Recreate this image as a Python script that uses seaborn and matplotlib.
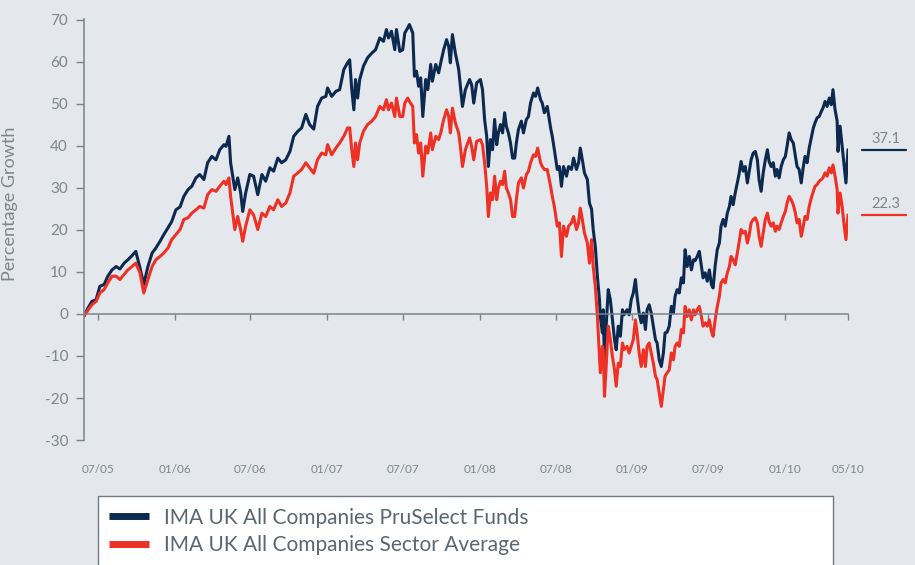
import matplotlib.pyplot as plt
import matplotlib.transforms as mtransforms
import seaborn as sns
import pandas as pd

# ---------------------------------------------------------------- data
start = pd.Timestamp("2005-05-29")

# days after start for each reading
days = [
    0, 10, 19, 29, 38, 48, 57, 67, 77, 86, 96, 105, 115, 124, 134, 143, 153, 163,
    172, 182, 191, 201, 210, 220, 230, 239, 249, 258, 268, 277, 287, 296, 306,
    316, 325, 335, 340, 347, 351, 356, 361, 368, 375, 380, 387, 397, 406, 416,
    426, 435, 445, 454, 464, 473, 483, 493, 502, 512, 521, 531, 540, 550, 559,
    569, 579, 583, 593, 603, 612,
    622, 631, 636, 641, 646, 650, 655, 660, 669, 679, 689, 698, 708, 717, 724,
    729, 736, 744, 748, 756, 763, 768, 775, 779, 787, 791, 796, 801, 806, 811,
    818, 823, 830, 834, 842, 849, 854, 861, 868, 873, 877, 882, 889, 897, 901, 906,
    913, 923, 928, 933, 940, 949, 954, 959, 964, 968, 973, 978, 983, 988, 992,
    997, 1002, 1007, 1011, 1016, 1021, 1026, 1031, 1035, 1040, 1047, 1052, 1059,
    1064, 1069, 1076, 1081, 1086, 1093, 1097, 1102, 1109, 1117, 1121, 1126, 1133,
    1138, 1143, 1148, 1155, 1160, 1167, 1172, 1179, 1184, 1188, 1193, 1198, 1205,
    1210, 1215,
    1219, 1224, 1229, 1234, 1236, 1241, 1243, 1246, 1250, 1255, 1260, 1265, 1270,
    1274, 1279, 1284, 1289, 1293, 1300, 1305, 1310, 1315, 1320, 1324, 1329, 1334,
    1339, 1344, 1348, 1353, 1358, 1363, 1368, 1372, 1377, 1382, 1387, 1391, 1396,
    1401, 1406, 1411, 1415, 1420, 1425, 1430, 1435, 1439, 1444, 1449, 1454, 1459,
    1463, 1468, 1473, 1478, 1482, 1487, 1492, 1497, 1502, 1506, 1511,
    1516, 1521, 1525, 1530, 1535, 1540, 1545, 1549, 1554, 1559, 1564, 1568, 1573,
    1578, 1583, 1588, 1592, 1597, 1602, 1607, 1612, 1616, 1621, 1626, 1631, 1636,
    1640, 1645, 1650, 1655, 1659, 1664, 1669, 1674, 1679, 1683, 1688, 1693, 1698,
    1703, 1707, 1712, 1717, 1722, 1726, 1731, 1736, 1741, 1746, 1750, 1755, 1760,
    1765, 1769, 1774, 1779, 1784, 1789, 1793, 1798, 1803, 1805, 1810, 1815, 1819,
    1824, 1829,
]

pruselect = [
    -0.5, 1.5, 3.0, 3.4, 6.6, 7.0, 9.0, 10.5, 11.3, 10.7, 12.1, 12.9, 13.9, 14.9,
    11.0, 7.0, 11.3, 14.5, 15.7, 17.3, 18.9, 20.5, 22.0, 24.8, 25.5, 28.0, 29.6,
    30.4, 32.4, 33.2, 32.0, 36.0, 37.5,
    36.7, 39.1, 40.3, 39.9, 42.3, 36.0, 32.8, 29.6, 32.4, 28.9, 24.4, 28.8, 33.2,
    32.8, 28.4, 33.2, 31.6, 34.8, 34.0, 37.1, 36.0, 36.7, 38.7, 42.3, 43.5, 44.3,
    47.5, 45.1, 44.0, 49.4, 51.4, 51.8, 53.8, 51.8, 53.0, 53.4,
    58.2, 59.8, 60.5, 53.4, 48.6, 55.8, 51.4, 55.8, 59.0, 61.0, 62.1, 62.9, 65.7,
    64.9, 67.7, 65.7, 67.3, 62.9, 67.7, 62.5, 62.9, 66.9, 68.1, 68.9, 66.9, 56.6,
    57.8, 54.2, 56.2, 47.0, 55.8, 53.4, 59.4, 55.4, 59.4, 57.4, 59.8, 62.9, 65.3,
    63.7, 59.8, 66.5, 62.1, 58.2, 54.2, 49.4,
    53.4, 55.8, 54.6, 50.2, 55.0, 55.8, 53.4, 46.3, 42.3, 35.1, 41.5, 39.1, 46.3,
    40.3, 43.1, 45.1, 43.1, 47.9, 44.7, 43.1, 40.7, 37.1, 37.1, 40.7, 43.9, 45.9,
    43.1, 46.3, 47.0, 50.2, 52.6, 51.8, 53.8, 51.0, 50.2, 47.9, 49.4, 44.3, 42.3,
    39.1, 34.4, 35.1, 30.4, 35.1, 32.8, 35.1, 34.4, 37.1, 34.4, 36.0, 39.5, 36.7,
    33.6, 32.0, 26.4, 25.0,
    20.1, 16.1, 9.0, 3.4, -0.6, -4.5, 1.0, -11.7, -2.9, 5.8, 3.4, -1.4, -6.1,
    -8.5, -2.9, -5.3, 1.0, -0.2, 1.0, -0.2, 3.4, 5.0, 8.2, 4.2, 0.2, -2.1, 0.2,
    -3.7, 1.0, 2.2, 0.2, -2.9, -6.1, -6.9, -10.9, -12.5, -9.3, -4.5, -4.3, -2.9,
    1.8, 0.2, 4.2, 5.8, 5.0, 8.6, 7.4, 15.3, 11.3, 13.7, 10.5, 12.9, 12.7, 13.7,
    14.9, 11.3, 8.6, 9.8, 7.8, 10.5, 7.0, 6.2, 11.5,
    15.3, 16.9, 20.9, 22.5, 20.9, 24.0, 25.6, 28.0, 26.0, 28.8, 31.2, 33.2, 36.3,
    34.0, 35.1, 31.2, 33.6, 36.7, 38.3, 38.7, 36.7, 32.0, 29.2, 33.6, 36.7, 39.1,
    36.3, 35.1, 36.0, 32.8, 34.4, 32.4, 35.1, 36.7, 37.5, 39.9, 43.1, 41.5, 40.7,
    37.5, 35.1, 34.4, 31.2, 35.1, 37.5, 36.0, 39.5, 41.9, 44.3, 45.5, 46.7, 47.0,
    48.2, 49.0, 50.6, 49.4, 51.4, 49.8, 53.4, 48.6, 45.9, 38.7, 44.7, 39.9, 36.0,
    31.2, 39.1,
]

sector = [
    -0.5, 1.0, 2.2, 3.0, 5.0, 5.8, 7.4, 9.0, 9.0, 8.2, 9.4, 10.5, 11.3, 12.1,
    9.8, 5.0, 8.2, 11.3, 12.9, 13.7, 14.5, 15.7, 17.7, 18.9, 20.1, 22.5, 22.9,
    24.0, 24.8, 25.6, 25.2, 28.4, 29.6,
    29.2, 30.4, 31.6, 30.8, 32.4, 28.0, 24.0, 20.1, 23.2, 20.1, 17.3, 20.9, 24.8,
    23.6, 20.1, 24.0, 23.2, 25.6, 24.8, 27.2, 25.6, 26.4, 28.8, 32.8, 33.6, 34.4,
    36.0, 34.8, 33.5, 36.7, 38.3, 37.9, 40.3, 37.9, 39.5, 40.7,
    42.3, 44.3, 44.3, 39.1, 35.1, 40.7, 36.7, 40.7, 43.5, 45.1, 45.9, 47.0, 49.4,
    48.6, 51.0, 48.6, 50.2, 47.0, 51.4, 47.0, 47.0, 50.2, 51.4, 50.6, 49.4, 40.7,
    42.7, 38.3, 40.7, 32.8, 39.9, 38.3, 43.1, 39.1, 42.3, 41.5, 43.1, 46.3, 48.6,
    47.0, 43.1, 49.0, 45.5, 43.1, 39.9, 35.1,
    39.1, 41.9, 39.9, 36.7, 41.1, 41.5, 40.3, 36.0, 30.4, 23.2, 28.8, 27.2, 32.8,
    27.2, 30.0, 31.6, 30.8, 34.0, 30.0, 28.8, 27.2, 23.2, 23.2, 27.2, 31.2, 32.4,
    30.0, 33.2, 34.0, 36.0, 37.9, 37.5, 39.5, 36.0, 35.1, 34.4, 34.4, 30.4, 28.0,
    25.6, 20.9, 21.7, 13.7, 20.9, 18.5, 20.9, 21.7, 23.2, 20.1, 21.7, 25.2, 22.5,
    19.3, 16.9, 12.1, 17.7,
    11.3, 6.6, -0.6, -10.1, -14.0, -7.7, -8.5, -19.6, -12.5, -2.9, -6.1, -10.1,
    -13.3, -17.2, -11.7, -12.5, -6.9, -8.5, -7.7, -9.3, -7.7, -6.1, -1.4, -4.5,
    -9.3, -12.5, -8.5, -12.5, -7.7, -6.9, -9.3, -11.7, -14.8, -15.6, -18.8, -22.0,
    -18.0, -14.8, -14.0, -13.3, -9.3, -10.9, -7.7, -6.9, -7.7, -3.7, -4.5, 1.8,
    -0.6, 1.0, -1.4, 1.0, -0.2, 1.0, 1.8, -0.6, -2.9, -2.1, -2.9, -1.4, -4.1,
    -5.3, -1.4,
    1.8, 4.2, 7.4, 8.2, 7.4, 9.8, 11.3, 13.7, 12.9, 11.7, 14.5, 16.9, 20.1, 19.3,
    19.7, 16.9, 18.5, 21.7, 22.5, 22.9, 21.7, 18.5, 16.1, 19.3, 22.5, 24.0, 22.0,
    20.9, 21.7, 19.7, 20.9, 20.1, 21.7, 23.2, 24.4, 26.4, 28.0, 27.2, 26.0, 24.0,
    21.7, 22.5, 18.5, 20.9, 23.2, 22.5, 25.6, 27.6, 29.2, 30.4, 30.8, 31.6, 32.0,
    32.4, 33.6, 32.8, 34.8, 33.6, 35.5, 32.8, 29.6, 24.0, 28.8, 25.6, 21.7, 17.7,
    23.6,
]

names = ["IMA UK All Companies PruSelect Funds",
         "IMA UK All Companies Sector Average"]
end_labels = ["37.1", "22.3"]

tick_dates = ["2005-07-01", "2006-01-01", "2006-07-01", "2007-01-01",
              "2007-07-01", "2008-01-01", "2008-07-01", "2009-01-01",
              "2009-07-01", "2010-01-01", "2010-05-31"]
tick_labels = ["07/05", "01/06", "07/06", "01/07", "07/07", "01/08",
               "07/08", "01/09", "07/09", "01/10", "05/10"]
yticks = list(range(-30, 71, 10))

# ---------------------------------------------------------------- style
bg = "#e4e7ec"
grey = "#7f858d"
axis_col = "#7b838c"
navy = "#0c2950"
red = "#ee3124"
palette = {names[0]: navy, names[1]: red}

sns.set_style("white")
plt.rcParams["font.family"] = ["Lato", "DejaVu Sans"]

df = pd.DataFrame({"day": days * 2,
                   "growth": pruselect + sector,
                   "fund": [names[0]] * len(days) + [names[1]] * len(days)})

fig = plt.figure(figsize=(9.15, 5.65), dpi=100, facecolor=bg)
ax = fig.add_axes([0.0918, 0.2212, 0.835, 0.7458])
ax.set_facecolor(bg)

sns.lineplot(data=df, x="day", y="growth", hue="fund", palette=palette,
             hue_order=names, linewidth=2.2, errorbar=None, legend=False,
             ax=ax)

last = days[-1]
ax.set_xlim(0, last)
ax.set_ylim(-30, 70.3)
ax.set_xlabel("")

# y axis
ax.set_yticks(yticks)
ax.set_yticklabels([str(t) for t in yticks])
ax.tick_params(axis="y", left=True, direction="out", length=6, width=1,
               color=axis_col, labelcolor=grey, labelsize=11, pad=5.5)
ax.set_ylabel("Percentage Growth", color=grey, fontsize=13)
ax.yaxis.set_label_coords(-0.0864, 0.561)

# x axis: spine sits at zero, labels stay at the bottom
tick_pos = [(pd.Timestamp(t) - start).days for t in tick_dates]
tick_pos[-1] = min(tick_pos[-1], last)
ax.spines["bottom"].set_position(("data", 0))
for side in ["top", "right"]:
    ax.spines[side].set_visible(False)
for side in ["left", "bottom"]:
    ax.spines[side].set_color(axis_col)
    ax.spines[side].set_linewidth(1.1)
ax.set_xticks(tick_pos)
ax.tick_params(axis="x", bottom=True, direction="out", length=4, width=1,
               color=axis_col, labelbottom=False)

sec = ax.secondary_xaxis("bottom")
sec.set_xticks(tick_pos)
sec.set_xticklabels(tick_labels)
sec.tick_params(length=0, labelsize=8.5, labelcolor=grey, pad=17)
sec.spines["bottom"].set_visible(False)

# end values marked on the right
trans = mtransforms.blended_transform_factory(ax.transAxes, ax.transData)
for vals, col, lab in [(pruselect, navy, end_labels[0]),
                       (sector, red, end_labels[1])]:
    ax.plot([1.018, 1.076], [vals[-1], vals[-1]], color=col, lw=1.6,
            transform=trans, clip_on=False)
    ax.text(1.069, vals[-1] + 1.0, lab, color=grey, fontsize=10.5,
            ha="right", va="bottom", transform=trans)

# legend box at the bottom
handles = ax.get_lines()[:2]
leg = fig.legend(handles, names, loc="upper left",
                 bbox_to_anchor=(0.107, 0.122, 0.803, 0.0), mode="expand",
                 fontsize=15, frameon=True, fancybox=False, framealpha=1,
                 facecolor="white", edgecolor="#737b84", borderpad=0.55,
                 labelspacing=0.38, handlelength=1.9, handletextpad=0.7,
                 borderaxespad=0)
leg.get_frame().set_linewidth(1.0)
for line in leg.get_lines():
    line.set_linewidth(5)
    line.set_solid_capstyle("butt")
for txt in leg.get_texts():
    txt.set_color("#5b6672")

fig.savefig("out.png", dpi=100, facecolor=bg)
